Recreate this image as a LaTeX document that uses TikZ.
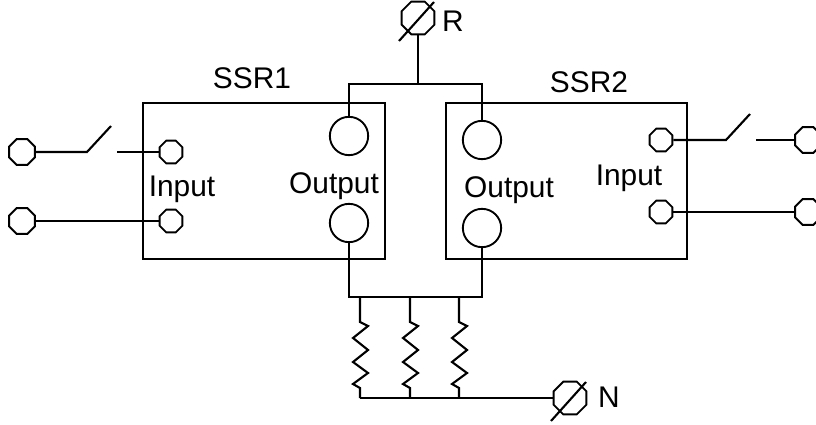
\documentclass[tikz,border=0pt]{standalone}
\usepackage{fontspec}
\setmainfont{Liberation Sans}
\usetikzlibrary{shapes.geometric}
\newcommand{\resistor}[2] {
    \draw[wire] (#1) -- ++(0,25) -- ++(8,4)
        -- ++(-15,12) -- ++(15,12) -- ++(-15,12)
        -- ++(15,11) -- ++(-15,11) -- ++(7,4) -- (#2);
}
\newcommand{\switch}[3] {
    \draw[wire] (#1) -- (#2) -- ++(24,-26);
    \draw[wire] (#2) ++(30,0) -- (#3);
}
\newcommand{\phase}[1] {
    \draw[wire] (#1) ++(-19,23) -- ++(35,-39);
}
\tikzset{
    wire/.style={line width=1.8pt},
    pin/.style={draw,line width=1.6pt,regular polygon,regular polygon sides=8,
        inner sep=0pt,minimum size=#1},
    outpin/.style={draw,line width=1.6pt,circle,inner sep=0pt,minimum size=1.15cm},
    relay/.style={draw,line width=1.8pt,inner sep=0pt},
    lbl/.style={anchor=base,inner sep=0pt,font=\fontsize{25.5}{30}\selectfont},
}
\begin{document}
\begin{tikzpicture}[x=0.03cm,y=-0.03cm]
    \useasboundingbox (0,0) rectangle (816,425);
    % relays
    \node[relay,minimum width=7.26cm,minimum height=4.68cm] (ssr1) at (264,181) {};
    \node[relay,minimum width=7.23cm,minimum height=4.68cm] (ssr2) at (566.5,181) {};
    \node[lbl] (t1) at (252,89) {SSR1};
    \node[lbl] (t2) at (589,93) {SSR2};
    \node[lbl] (in1) at (182,196) {Input};
    \node[lbl] (out1) at (334,193) {Output};
    \node[lbl] (out2) at (509,197) {Output};
    \node[lbl] (in2) at (629,185) {Input};
    % terminals
    \node[pin=0.74cm] (i1a) at (171,152) {};
    \node[pin=0.74cm] (i1b) at (171,221) {};
    \node[pin=0.74cm] (i2a) at (661,140) {};
    \node[pin=0.74cm] (i2b) at (661,212) {};
    \node[outpin] (o1a) at (349,136) {};
    \node[outpin] (o1b) at (349,223) {};
    \node[outpin] (o2a) at (482,140) {};
    \node[outpin] (o2b) at (482,228) {};
    \node[pin=0.84cm] (l1) at (22,152) {};
    \node[pin=0.84cm] (l2) at (22,221) {};
    \node[pin=0.84cm] (r1) at (808,140) {};
    \node[pin=0.84cm] (r2) at (808,212) {};
    \node[pin=1.06cm] (pr) at (418,18) {};
    \node[pin=1.06cm] (pn) at (570,398) {};
    \node[lbl,anchor=base west] (tr) at (442,32) {R};
    \node[lbl,anchor=base west] (tn) at (598,407) {N};
    \phase{pr}
    \phase{pn}
    % control side
    \coordinate (sw1) at (87,152);
    \coordinate (sw2) at (726,140);
    \switch{l1}{sw1}{i1a}
    \switch{i2a}{sw2}{r1}
    \draw[wire] (l2) -- (i1b);
    \draw[wire] (i2b) -- (r2);
    % load side
    \coordinate (top) at (418,84);
    \coordinate (bot) at (415,297);
    \draw[wire] (pr) -- (top);
    \draw[wire] (o1a) |- (top) -| (o2a);
    \draw[wire] (o1b) |- (bot) -| (o2b);
    \coordinate (h1) at (360,297);
    \coordinate (h2) at (410,297);
    \coordinate (h3) at (459,297);
    \coordinate (e1) at (360,398);
    \coordinate (e2) at (410,398);
    \coordinate (e3) at (459,398);
    \resistor{h1}{e1}
    \resistor{h2}{e2}
    \resistor{h3}{e3}
    \draw[wire] (e1) -- (pn);
\end{tikzpicture}
\end{document}
